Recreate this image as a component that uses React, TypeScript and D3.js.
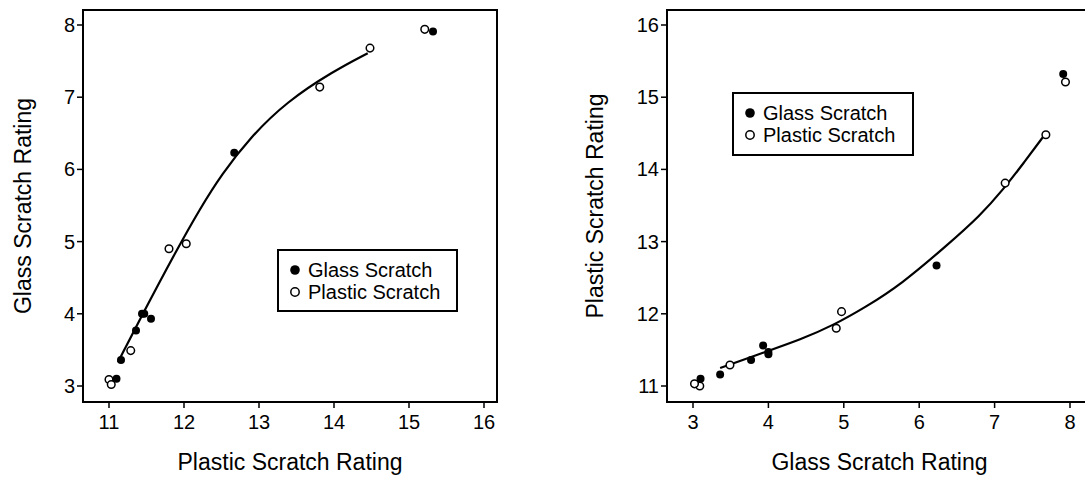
import React from "react";
import * as d3 from "d3";

// Glass Scratch group (filled markers)
const glassGrpPlastic = [11.10, 11.16, 11.36, 11.44, 11.47, 11.56, 12.67, 15.32];
const glassGrpGlass = [3.10, 3.36, 3.77, 4.00, 4.00, 3.93, 6.23, 7.91];
// Plastic Scratch group (open markers)
const plasticGrpPlastic = [11.00, 11.03, 11.29, 11.80, 12.03, 13.81, 14.48, 15.21];
const plasticGrpGlass = [3.09, 3.02, 3.49, 4.90, 4.97, 7.14, 7.68, 7.94];

// fitted curve, left panel (x: plastic, y: glass)
const fitLeftX = [11.12, 11.46, 11.90, 12.21, 12.50, 12.88, 13.37, 13.99, 14.45];
const fitLeftY = [3.33, 4.02, 4.88, 5.45, 5.93, 6.44, 6.94, 7.36, 7.61];
// fitted curve, right panel (x: glass, y: plastic)
const fitRightX = [3.36, 3.98, 4.42, 4.86, 5.30, 5.75, 6.36, 6.81, 7.12, 7.38, 7.65];
const fitRightY = [11.25, 11.48, 11.64, 11.84, 12.10, 12.40, 12.94, 13.36, 13.73, 14.08, 14.46];

const leftXTicks = [11, 12, 13, 14, 15, 16];
const leftYTicks = [3, 4, 5, 6, 7, 8];
const rightXTicks = [3, 4, 5, 6, 7, 8];
const rightYTicks = [11, 12, 13, 14, 15, 16];

const legendLabels = ["Glass Scratch", "Plastic Scratch"];

const FONT = "'Liberation Sans', Arial, Helvetica, sans-serif";

type PanelProps = {
  box: { l: number; r: number; t: number; b: number };
  xs: d3.ScaleLinear<number, number>;
  ys: d3.ScaleLinear<number, number>;
  xTicks: number[];
  yTicks: number[];
  filledX: number[];
  filledY: number[];
  openX: number[];
  openY: number[];
  fitX: number[];
  fitY: number[];
  xTitle: string;
  yTitle: string;
  yTitleX: number;
  legend: { x: number; y: number; w: number; h: number };
};

function Panel(p: PanelProps) {
  const { box, xs, ys } = p;
  const line = d3
    .line<[number, number]>()
    .x((d) => xs(d[0]))
    .y((d) => ys(d[1]))
    .curve(d3.curveBasis);
  const fitPts: [number, number][] = p.fitX.map((x, i) => [x, p.fitY[i]]);
  const midX = (box.l + box.r) / 2;
  const midY = (box.t + box.b) / 2;
  return (
    <g>
      <rect
        x={box.l}
        y={box.t}
        width={box.r - box.l}
        height={box.b - box.t}
        fill="none"
        stroke="#000"
        strokeWidth={2}
      />
      {p.xTicks.map((t) => (
        <g key={"xt" + t}>
          <line x1={xs(t)} x2={xs(t)} y1={box.b} y2={box.b + 6} stroke="#000" strokeWidth={1.5} />
          <text x={xs(t)} y={429} textAnchor="middle" fontSize={20} fontFamily={FONT} fill="#000">
            {t}
          </text>
        </g>
      ))}
      {p.yTicks.map((t) => (
        <g key={"yt" + t}>
          <line x1={box.l - 6} x2={box.l} y1={ys(t)} y2={ys(t)} stroke="#000" strokeWidth={1.5} />
          <text
            x={box.l - 8}
            y={ys(t) + 7}
            textAnchor="end"
            fontSize={20}
            fontFamily={FONT}
            fill="#000"
          >
            {t}
          </text>
        </g>
      ))}
      <text x={midX} y={470} textAnchor="middle" fontSize={23} fontFamily={FONT} fill="#000">
        {p.xTitle}
      </text>
      <text
        transform={`translate(${p.yTitleX},${midY}) rotate(-90)`}
        textAnchor="middle"
        fontSize={23}
        fontFamily={FONT}
        fill="#000"
      >
        {p.yTitle}
      </text>
      <path d={line(fitPts) || ""} fill="none" stroke="#000" strokeWidth={2.2} />
      {p.filledX.map((x, i) => (
        <circle key={"f" + i} cx={xs(x)} cy={ys(p.filledY[i])} r={4} fill="#000" />
      ))}
      {p.openX.map((x, i) => (
        <circle
          key={"o" + i}
          cx={xs(x)}
          cy={ys(p.openY[i])}
          r={3.8}
          fill="#fff"
          stroke="#000"
          strokeWidth={1.5}
        />
      ))}
      <rect
        x={p.legend.x}
        y={p.legend.y}
        width={p.legend.w}
        height={p.legend.h}
        fill="#fff"
        stroke="#000"
        strokeWidth={2}
      />
      {legendLabels.map((lab, i) => {
        const cy = p.legend.y + 20 + i * 22;
        return (
          <g key={lab}>
            {i === 0 ? (
              <circle cx={p.legend.x + 17} cy={cy} r={4.8} fill="#000" />
            ) : (
              <circle cx={p.legend.x + 17} cy={cy} r={4.2} fill="#fff" stroke="#000" strokeWidth={1.5} />
            )}
            <text x={p.legend.x + 30} y={cy + 7} fontSize={20} fontFamily={FONT} fill="#000">
              {lab}
            </text>
          </g>
        );
      })}
    </g>
  );
}

export default function App() {
  const leftBox = { l: 83, r: 497, t: 10, b: 402 };
  const rightBox = { l: 667, r: 1092, t: 10, b: 402 };
  const xL = d3.scaleLinear().domain([11, 16]).range([109, 484]);
  const yL = d3.scaleLinear().domain([3, 8]).range([386, 25]);
  const xR = d3.scaleLinear().domain([3, 8]).range([693, 1070]);
  const yR = d3.scaleLinear().domain([11, 16]).range([386, 25]);
  return (
    <svg
      width={1085}
      height={477}
      style={{ position: "absolute", left: 0, top: 0, background: "#fff" }}
    >
      <rect x={0} y={0} width={1085} height={477} fill="#fff" />
      <Panel
        box={leftBox}
        xs={xL}
        ys={yL}
        xTicks={leftXTicks}
        yTicks={leftYTicks}
        filledX={glassGrpPlastic}
        filledY={glassGrpGlass}
        openX={plasticGrpPlastic}
        openY={plasticGrpGlass}
        fitX={fitLeftX}
        fitY={fitLeftY}
        xTitle="Plastic Scratch Rating"
        yTitle="Glass Scratch Rating"
        yTitleX={31}
        legend={{ x: 278, y: 250, w: 179, h: 61 }}
      />
      <Panel
        box={rightBox}
        xs={xR}
        ys={yR}
        xTicks={rightXTicks}
        yTicks={rightYTicks}
        filledX={glassGrpGlass}
        filledY={glassGrpPlastic}
        openX={plasticGrpGlass}
        openY={plasticGrpPlastic}
        fitX={fitRightX}
        fitY={fitRightY}
        xTitle="Glass Scratch Rating"
        yTitle="Plastic Scratch Rating"
        yTitleX={603}
        legend={{ x: 733, y: 93, w: 180, h: 62 }}
      />
    </svg>
  );
}
